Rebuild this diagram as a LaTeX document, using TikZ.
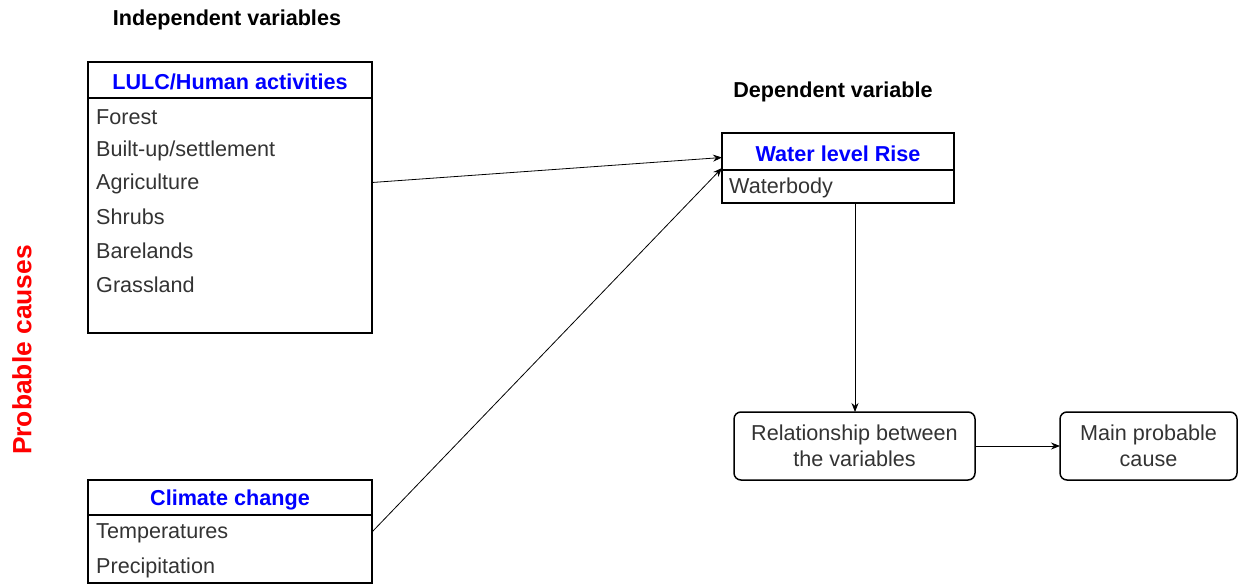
\documentclass[tikz,border=0pt]{standalone}
\usepackage{fontspec}
\setmainfont{Liberation Sans}
\usetikzlibrary{arrows.meta,calc}
\definecolor{txt}{HTML}{333333}
\definecolor{ttl}{RGB}{0,0,255}
\definecolor{pred}{RGB}{255,0,0}
\begin{document}
\begin{tikzpicture}[x=1pt,y=-1pt,
  box/.style={draw=black,line width=1.6pt,inner sep=0pt,outer sep=0pt,anchor=north west},
  rbox/.style={draw=black,line width=1.5pt,rounded corners=7pt,inner sep=0pt,outer sep=0pt,anchor=north west,align=center,text=txt,font=\fontsize{21.6}{26}\selectfont},
  ttltext/.style={text=ttl,font=\fontsize{21.6}{26}\selectfont\bfseries},
  item/.style={anchor=west,inner sep=0pt,text=txt,font=\fontsize{21.6}{26}\selectfont},
  heading/.style={text=black,font=\fontsize{21.6}{26}\selectfont\bfseries},
  arr/.style={draw=black,line width=0.8pt,-{Stealth[length=9pt,width=7pt]}}]
\useasboundingbox (0,0) rectangle (1238,585);

% headings
\node[heading] (indep) at (227,20) {Independent variables};
\node[heading] (dep) at (833,92) {Dependent variable};
\node[rotate=90,text=pred,font=\fontsize{26.4}{30}\selectfont\bfseries] (prob) at (22,350) {Probable causes};

% LULC box
\node[box,minimum width=284pt,minimum height=36pt] (lulch) at (88,62) {};
\node[ttltext] (lulct) at ([yshift=-2]lulch.center) {LULC/Human activities};
\node[box,minimum width=284pt,minimum height=235pt] (lulcb) at (88,98) {};
\node[item] (i1) at (96,117) {Forest};
\node[item] (i2) at (96,151) {Built-up/settlement};
\node[item] (i3) at (96,184) {Agriculture};
\node[item] (i4) at (96,217) {Shrubs};
\node[item] (i5) at (96,251) {Barelands};
\node[item] (i6) at (96,285) {Grassland};

% Climate box
\node[box,minimum width=284pt,minimum height=35pt] (climh) at (88,480) {};
\node[ttltext] (climt) at ([yshift=-2]climh.center) {Climate change};
\node[box,minimum width=284pt,minimum height=68pt] (climb) at (88,515) {};
\node[item] (c1) at (96,533) {Temperatures};
\node[item] (c2) at (96,568) {Precipitation};

% Water box
\node[box,minimum width=232pt,minimum height=37pt] (wath) at (722,133) {};
\node[ttltext] (watt) at ([yshift=-2]wath.center) {Water level Rise};
\node[box,minimum width=232pt,minimum height=33pt] (watb) at (722,170) {};
\node[item] (w1) at (729,188) {Waterbody};

% Rounded boxes
\node[rbox,minimum width=241pt,minimum height=68pt] (rel) at (734,412) {Relationship between\\the variables};
\node[rbox,minimum width=177pt,minimum height=68pt] (main) at (1060,412) {Main probable\\cause};

% connectors
\draw[arr] ([yshift=33]lulcb.east) -- ([yshift=-6]wath.west);
\draw[arr] ([yshift=17]climb.east) -- ([yshift=2]watb.north west);
\draw[arr] ([xshift=17]watb.south) -- ([xshift=17]watb.south |- rel.north);
\draw[arr] (rel.east) -- (main.west);
\end{tikzpicture}
\end{document}
